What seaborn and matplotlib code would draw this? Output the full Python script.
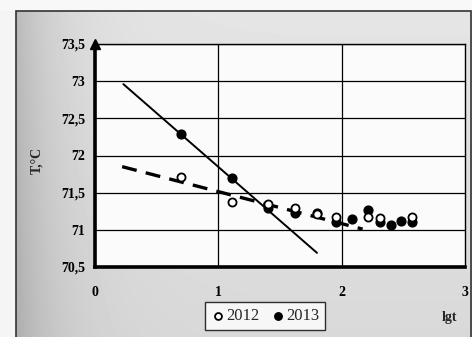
import numpy as np
import pandas as pd
import matplotlib
matplotlib.use("Agg")
import matplotlib.pyplot as plt
from matplotlib.patches import Rectangle
import seaborn as sns

# Measured temperatures vs. log of time
lgt_2012 = [0.70, 1.11, 1.40, 1.62, 1.80, 1.95, 2.21, 2.31, 2.57]
t_2012 = [71.71, 71.38, 71.35, 71.29, 71.21, 71.17, 71.17, 71.16, 71.17]

lgt_2013 = [0.70, 1.11, 1.40, 1.62, 1.80, 1.95, 2.08, 2.21, 2.31, 2.40, 2.48, 2.57]
t_2013 = [72.29, 71.70, 71.29, 71.23, 71.22, 71.11, 71.14, 71.27, 71.10, 71.07, 71.12, 71.11]

# Linear trend lines (end points)
trend_x_2012 = [0.22, 2.17]
trend_y_2012 = [71.85, 71.01]
trend_x_2013 = [0.23, 1.80]
trend_y_2013 = [72.96, 70.69]

y_ticks = [70.5, 71.0, 71.5, 72.0, 72.5, 73.0, 73.5]
y_tick_labels = ["70,5", "71", "71,5", "72", "72,5", "73", "73,5"]
x_ticks = [0, 1, 2, 3]
x_tick_labels = ["0", "1", "2", "3"]

sns.set_theme(style="white")
plt.rcParams["font.family"] = ["Liberation Serif", "DejaVu Serif"]
plt.rcParams["font.weight"] = "bold"

W, H = 472, 337
fig = plt.figure(figsize=(W / 100, H / 100), dpi=100)
fig.patch.set_facecolor("#f2f2f2")

# paper background: darker toward the left edge and the bottom
bg = fig.add_axes([0, 0, 1, 1], zorder=-5)
xx, yy = np.meshgrid(np.arange(W), np.arange(H))
shade = 0.90 - 0.17 * np.exp(-(xx - 16) / 45.0) - 0.05 * (yy / H)
shade = np.where(xx < 16, 0.96, shade)
shade = np.where(yy < 11, 0.97, shade)
bg.imshow(shade, cmap="gray", vmin=0, vmax=1, aspect="auto",
          extent=(0, W, H, 0), interpolation="bilinear")
bg.add_patch(Rectangle((16, 11), W - 17, H - 10, fill=False,
                       edgecolor="#333333", linewidth=1.2))
bg.set_xlim(0, W)
bg.set_ylim(H, 0)
bg.axis("off")

ax = fig.add_axes([95 / W, 1 - 267 / H, (465 - 95) / W, (267 - 44) / H])
ax.set_facecolor("#fbfbfb")

df13 = pd.DataFrame({"lgt": trend_x_2013, "T": trend_y_2013})
df12 = pd.DataFrame({"lgt": trend_x_2012, "T": trend_y_2012})
sns.lineplot(data=df13, x="lgt", y="T", ax=ax, color="black", linewidth=1.4, zorder=3)
sns.lineplot(data=df12, x="lgt", y="T", ax=ax, color="black", linewidth=2.4,
             linestyle=(0, (4.5, 2.8)), zorder=3)

pts12 = pd.DataFrame({"lgt": lgt_2012, "T": t_2012})
pts13 = pd.DataFrame({"lgt": lgt_2013, "T": t_2013})
sns.scatterplot(data=pts13, x="lgt", y="T", ax=ax, color="black", s=40,
                edgecolor="black", linewidth=1.0, zorder=4, label="2013")
sns.scatterplot(data=pts12, x="lgt", y="T", ax=ax, color="white", s=34,
                edgecolor="black", linewidth=1.3, zorder=5, label="2012")

ax.set_xlim(0, 3)
ax.set_ylim(70.5, 73.5)
ax.set_yticks(y_ticks)
ax.set_yticklabels(y_tick_labels, fontsize=10, fontweight="bold")
ax.set_xticks(x_ticks)
ax.set_xticklabels(x_tick_labels, fontsize=10, fontweight="bold")
ax.tick_params(axis="y", direction="out", length=4, width=2.2, pad=3, colors="black")
ax.tick_params(axis="x", direction="out", length=4, width=2.2, pad=10, colors="black")

ax.grid(True, axis="y", color="black", linewidth=0.9)
for gx in [1, 2]:
    ax.axvline(gx, color="black", linewidth=0.9, zorder=1)

for side in ["top", "right"]:
    ax.spines[side].set_linewidth(1.0)
    ax.spines[side].set_color("black")
for side in ["left", "bottom"]:
    ax.spines[side].set_linewidth(2.6)
    ax.spines[side].set_color("black")

# arrow heads on the axes
ax.plot(0, 1, marker="^", color="black", markersize=7,
        transform=ax.get_xaxis_transform(), clip_on=False, zorder=6)
ax.plot(1, 0, marker=">", color="black", markersize=7,
        transform=ax.get_yaxis_transform(), clip_on=False, zorder=6)

ax.set_xlabel("")
ax.set_ylabel("")
fig.text(37 / W, 1 - 160 / H, "T,°C", rotation=90, ha="center", va="center",
         fontsize=10, fontweight="bold")
fig.text(449 / W, 1 - 318 / H, "lgt", ha="center", va="center",
         fontsize=10, fontweight="bold")

handles, labels = ax.get_legend_handles_labels()
order = [labels.index("2012"), labels.index("2013")]
leg = ax.legend([handles[i] for i in order], [labels[i] for i in order],
                loc="center", bbox_to_anchor=((265 - 95) / 370, -(316 - 267) / 223),
                ncol=2, frameon=True, fancybox=False, edgecolor="black",
                handletextpad=0.1, columnspacing=0.7, borderpad=0.35,
                handlelength=0.8, markerscale=0.85,
                prop={"size": 12, "weight": "medium"})
leg.get_frame().set_linewidth(1.0)
leg.get_frame().set_facecolor("white")

fig.savefig("out.png", dpi=100)
